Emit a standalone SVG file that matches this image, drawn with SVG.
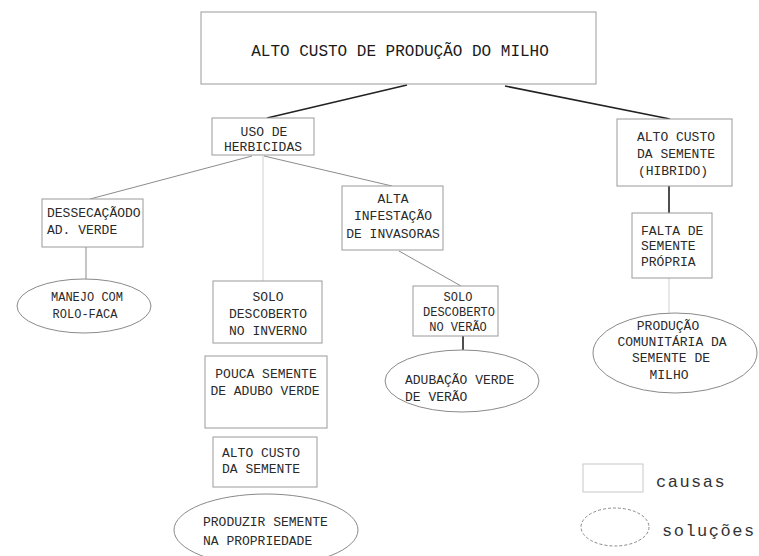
<svg xmlns="http://www.w3.org/2000/svg" width="759" height="556" viewBox="0 0 759 556">
<style>
.bg{fill:#ffffff}
.box{fill:#ffffff;stroke:#9a9a9a;stroke-width:1}
.ell{fill:#ffffff;stroke:#8a8a8a;stroke-width:1}
.t{font-family:"Liberation Mono","DejaVu Sans Mono",monospace;font-size:13px;fill:#2a2a2a}
.s{font-size:12px}
.c{text-anchor:middle}
.title{font-family:"Liberation Mono","DejaVu Sans Mono",monospace;font-size:16px;fill:#1a1a1a;text-anchor:middle}
.leg{font-family:"Liberation Mono","DejaVu Sans Mono",monospace;font-size:17px;fill:#333;letter-spacing:1.5px}
.dark{stroke:#222;stroke-width:1.6;fill:none}
.mid{stroke:#8c8c8c;stroke-width:1;fill:none}
.faint{stroke:#d0d0d0;stroke-width:1;fill:none}
</style>
<rect class="bg" x="0" y="0" width="759" height="556"/>

<g id="connectors">
  <line class="dark" x1="407" y1="85" x2="267" y2="118"/>
  <line class="dark" x1="505" y1="86" x2="670" y2="119"/>
  <line class="mid" x1="252" y1="156" x2="90" y2="199"/>
  <line class="faint" x1="263" y1="156" x2="263" y2="281"/>
  <line class="mid" x1="264" y1="156" x2="392" y2="186"/>
  <line class="mid" x1="86" y1="247" x2="86" y2="279"/>
  <line class="mid" x1="399" y1="251" x2="461" y2="286"/>
  <line class="dark" x1="463" y1="336" x2="463" y2="350"/>
  <line class="dark" x1="669" y1="186" x2="669" y2="213"/>
  <line class="faint" x1="669" y1="278" x2="669" y2="313"/>
</g>

<g id="main">
  <rect class="box" x="201" y="12" width="395" height="72"/>
  <text class="title" x="400" y="56">ALTO CUSTO DE PRODUÇÃO DO MILHO</text>
</g>

<g id="uso-herbicidas">
  <rect class="box" x="212" y="118" width="102" height="37"/>
  <text class="t c" x="264" y="136">USO DE</text>
  <text class="t c" x="263" y="151">HERBICIDAS</text>
</g>

<g id="alto-custo-hibrido">
  <rect class="box" x="617" y="119" width="115" height="67"/>
  <text class="t c" x="676" y="141">ALTO CUSTO</text>
  <text class="t c" x="676" y="158">DA SEMENTE</text>
  <text class="t c" x="673" y="175">(HIBRIDO)</text>
</g>

<g id="falta-semente">
  <rect class="box" x="632" y="213" width="80" height="65"/>
  <text class="t" x="641" y="235">FALTA DE</text>
  <text class="t" x="641" y="250">SEMENTE</text>
  <text class="t" x="641" y="266">PRÓPRIA</text>
</g>

<g id="producao-comunitaria">
  <ellipse class="ell" cx="675" cy="353" rx="82" ry="40"/>
  <text class="t c" x="668" y="330">PRODUÇÃO</text>
  <text class="t c" x="672" y="346">COMUNITÁRIA DA</text>
  <text class="t c" x="671" y="362">SEMENTE DE</text>
  <text class="t c" x="669" y="379">MILHO</text>
</g>

<g id="dessecacao">
  <rect class="box" x="42" y="199" width="101" height="48"/>
  <text class="t" x="47" y="217">DESSECAÇÃODO</text>
  <text class="t" x="47" y="234">AD. VERDE</text>
</g>

<g id="manejo">
  <ellipse class="ell" cx="84" cy="306" rx="67" ry="27"/>
  <text class="t s c" x="87" y="301">MANEJO COM</text>
  <text class="t s c" x="85" y="318">ROLO-FACA</text>
</g>

<g id="alta-infestacao">
  <rect class="box" x="342" y="186" width="101" height="64"/>
  <text class="t c" x="393" y="203">ALTA</text>
  <text class="t c" x="393" y="220">INFESTAÇÃO</text>
  <text class="t c" x="393" y="238">DE INVASORAS</text>
</g>

<g id="solo-inverno">
  <rect class="box" x="213" y="281" width="109" height="62"/>
  <text class="t c" x="268" y="301">SOLO</text>
  <text class="t c" x="268" y="318">DESCOBERTO</text>
  <text class="t c" x="268" y="335">NO INVERNO</text>
</g>

<g id="solo-verao">
  <rect class="box" x="413" y="286" width="85" height="50"/>
  <text class="t s c" x="458" y="301">SOLO</text>
  <text class="t s c" x="459" y="316">DESCOBERTO</text>
  <text class="t s c" x="458" y="331">NO VERÃO</text>
</g>

<g id="adubacao">
  <ellipse class="ell" cx="462" cy="381" rx="77" ry="31"/>
  <text class="t" x="405" y="384">ADUBAÇÃO VERDE</text>
  <text class="t" x="405" y="401">DE VERÃO</text>
</g>

<g id="pouca-semente">
  <rect class="box" x="205" y="356" width="122" height="72"/>
  <text class="t c" x="266" y="378">POUCA SEMENTE</text>
  <text class="t c" x="265" y="395">DE ADUBO VERDE</text>
</g>

<g id="alto-custo-semente">
  <rect class="box" x="213" y="437" width="104" height="50"/>
  <text class="t" x="222" y="457">ALTO CUSTO</text>
  <text class="t" x="222" y="473">DA SEMENTE</text>
</g>

<g id="produzir-semente">
  <ellipse class="ell" cx="266" cy="530" rx="92" ry="36"/>
  <text class="t" x="203" y="526">PRODUZIR SEMENTE</text>
  <text class="t" x="203" y="545">NA PROPRIEDADE</text>
</g>

<g id="legend">
  <rect class="box" x="583" y="464" width="60" height="28" style="stroke:#c8c8c8"/>
  <text class="leg" x="656" y="487">causas</text>
  <ellipse class="ell" cx="615" cy="527" rx="34" ry="19" style="stroke-dasharray:3 2"/>
  <text class="leg" x="662" y="536">soluções</text>
</g>
</svg>
